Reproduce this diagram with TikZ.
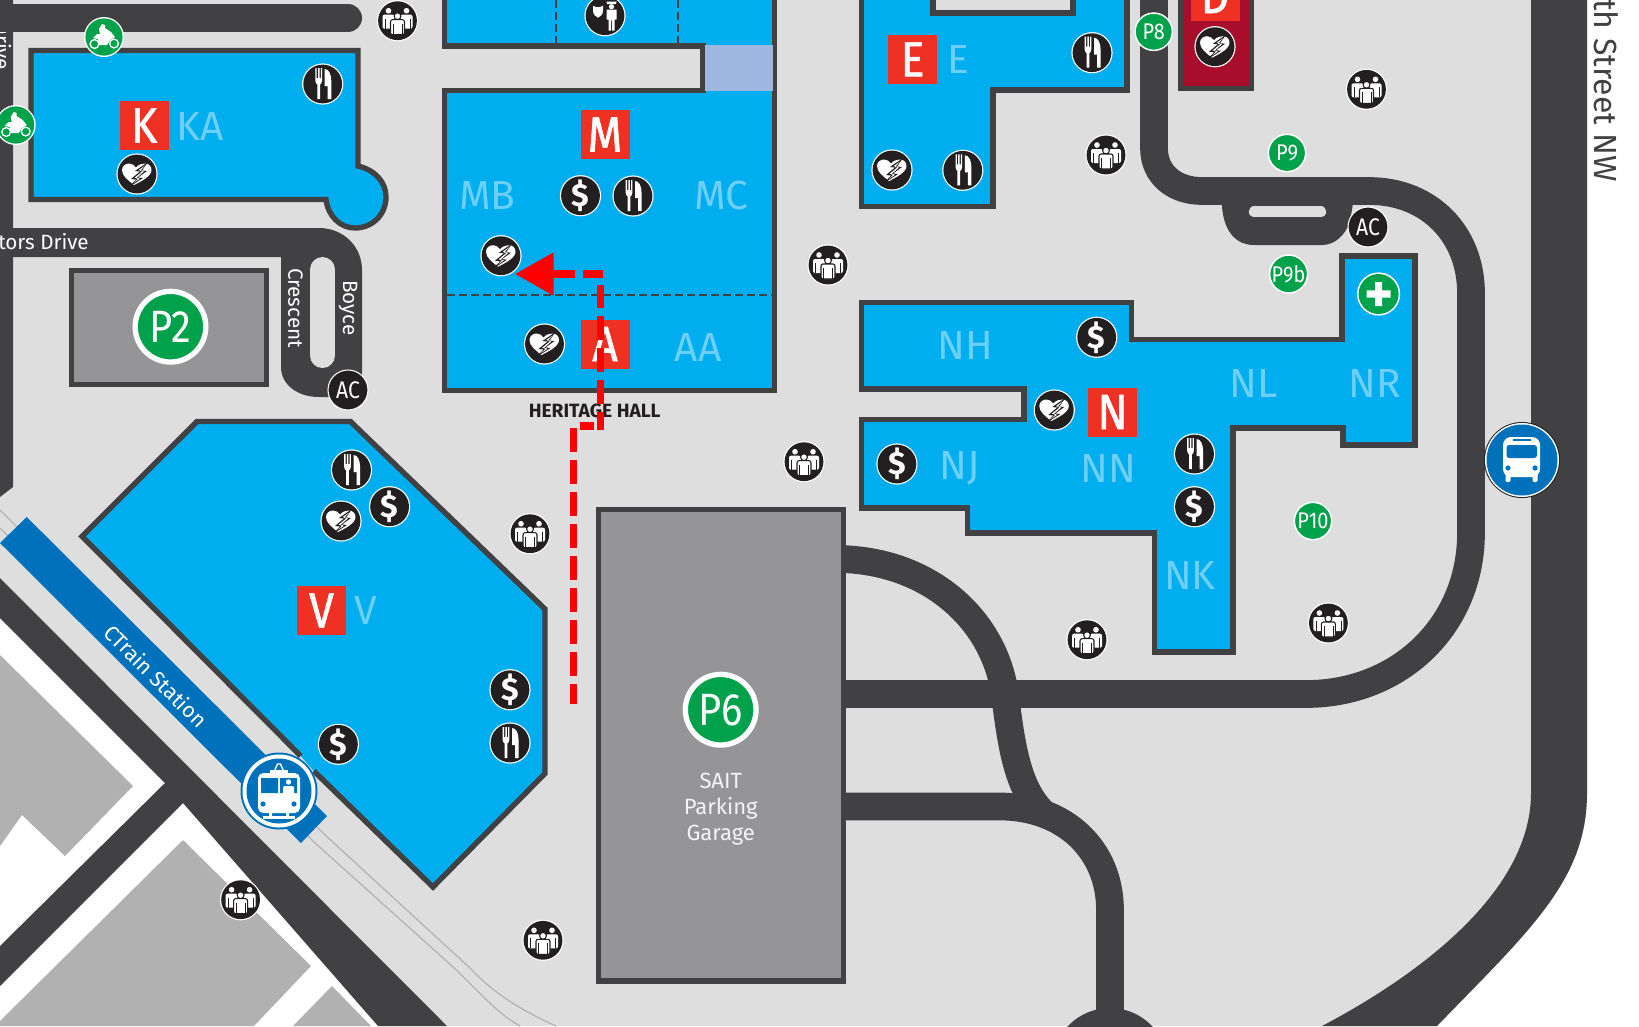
\documentclass[tikz,border=0pt]{standalone}
\usepackage{fontspec}
\setmainfont{Fira Sans}
\newfontfamily\sqfont[FakeStretch=0.9,FakeBold=1.2]{Fira Sans}
\newfontfamily\tagfont[FakeStretch=0.88]{Fira Sans}
\usetikzlibrary{arrows.meta}
\definecolor{roadgray}{HTML}{414042}
\definecolor{groundgray}{HTML}{DEDEDF}
\definecolor{blockgray}{HTML}{B1B1B1}
\definecolor{parkgray}{HTML}{959597}
\definecolor{bldblue}{HTML}{00AEEF}
\definecolor{lblblue}{HTML}{6DCFF6}
\definecolor{patchblue}{HTML}{9DB7E0}
\definecolor{transitblue}{HTML}{0072BC}
\definecolor{bldred}{HTML}{EF3124}
\definecolor{darkred}{HTML}{A90D2C}
\definecolor{parkgreen}{HTML}{00A14B}
\definecolor{iconblack}{HTML}{231F20}
\definecolor{routered}{HTML}{FF0000}
\definecolor{railgray}{HTML}{B4B5B7}
\tikzset{
  roadline/.style={line width=20.8pt,draw=roadgray},
  outline/.style={line width=4pt,draw=roadgray,miter limit=10},
  bld/.style={outline,fill=bldblue},
  lot/.style={outline,fill=parkgray},
  redsq/.style={fill=bldred,text=white,minimum size=36.75pt,inner sep=0pt,font=\sqfont\fontsize{37}{37}\selectfont},
  wing/.style={text=lblblue,inner sep=0pt,font=\fontsize{30.5}{30.5}\selectfont},
  parkbig/.style={circle,fill=parkgreen,draw=white,line width=4pt,minimum size=53pt,inner sep=0pt,text=white,font=\tagfont\fontsize{34}{34}\selectfont},
  parksmall/.style={circle,fill=parkgreen,draw=white,line width=1.1pt,minimum size=28pt,inner sep=0pt,text=white,font=\tagfont\fontsize{17}{17}\selectfont},
  acbadge/.style={circle,fill=iconblack,draw=white,line width=0.8pt,minimum size=30pt,inner sep=0pt,text=white,font=\tagfont\fontsize{18}{18}\selectfont},
  streetname/.style={text=white,inner sep=0pt,font=\fontsize{15.5}{15.5}\selectfont},
  redroute/.style={draw=routered,line width=5.6pt,dash pattern=on 18pt off 6pt},
  badge/.pic={\fill[white] (0,0) circle (20.6); \fill[iconblack] (0,0) circle (19.4);},
  dollarbadge/.pic={\pic {badge};
    \node[text=white,inner sep=0pt,font=\fontsize{24}{24}\selectfont\bfseries] (sign) at (0,0) {\$};},
  forkbadge/.pic={\pic {badge};
    \begin{scope}[yscale=-1]
    \fill[white] (-7.3,-16) -- (-6,-16) -- (-6,-6) -- (-4.6,-6) -- (-4.6,-16) -- (-3.2,-16) -- (-3.2,-6) -- (-1.9,-6) -- (-1.9,-16) -- (-0.7,-16) -- (-0.7,-3) .. controls (-0.7,-1) and (-2,0) .. (-2.6,0.5) -- (-2.6,15) -- (-5.4,15) -- (-5.4,0.5) .. controls (-6,0) and (-7.3,-1) .. (-7.3,-3) -- cycle;
    \fill[white] (2,-15) .. controls (6,-15) and (8.6,-10) .. (8.6,-3) -- (8.6,15) -- (5,15) -- (5,2) -- (2,2) -- cycle;
    \end{scope}},
  peoplebadge/.pic={\pic {badge};
    \begin{scope}[yscale=-1]
    \fill[white] (-9,-10) circle (2.8) (9,-10) circle (2.8);
    \fill[white,rounded corners=1.5] (-15,-6) rectangle (-3,8);
    \fill[white,rounded corners=1.5] (3,-6) rectangle (15,8);
    \fill[white,draw=iconblack,line width=0.8pt] (0,-4.5) circle (3.4);
    \fill[white,draw=iconblack,line width=0.8pt,rounded corners=1.5] (-7,-1) rectangle (7,14);
    \draw[iconblack,line width=0.5pt] (-4.5,3) -- (-4.5,14) (4.5,3) -- (4.5,14) (-12.5,-2) -- (-12.5,8) (12.5,-2) -- (12.5,8);
    \end{scope}},
  heartbadge/.pic={\pic {badge};
    \begin{scope}[yscale=-1]
    \fill[white] (-3,11) .. controls (-9,6) and (-15,2) .. (-15,-4) .. controls (-15,-8) and (-11.5,-10.5) .. (-8,-10.5) .. controls (-5,-10.5) and (-3,-9) .. (-1,-6.5) .. controls (1.5,-9.5) and (5,-10.5) .. (8,-10.5) .. controls (11.5,-10.5) and (14.5,-8) .. (14.5,-4) .. controls (14.5,2) and (5,7) .. cycle;
    \fill[iconblack] (11,-12) -- (-2,-3) -- (3,-2.5) -- (-6,5) -- (-1,5.5) -- (-8,13) -- (6,4) -- (1,3.5) -- (10,-3) -- (5,-3.5) -- cycle;
    \fill[white] (8,-8.5) -- (1.5,-3.8) -- (6,-3.2) -- (-2.5,3.8) -- (1.8,4.2) -- (-3.5,9) -- (3,4.8) -- (-1,4.4) -- (7,-2.5) -- (3,-3) -- cycle;
    \end{scope}},
  bikebadge/.pic={\fill[white] (0,0) circle (20); \fill[parkgreen] (0,0) circle (18.6);
    \begin{scope}[yscale=-1]
    \draw[white,line width=1pt] (-9.5,7) circle (4.4) (10,6.5) circle (4.4);
    \fill[white] (-11,1) -- (-7,-3) -- (-4,-3) -- (-5,-8) -- (-2,-13) -- (1,-12) -- (1,-9) -- (7,-5) -- (11,0) -- (6,3) -- (3,8) -- (-5,8) -- (-6,2) -- cycle;
    \end{scope}},
  policebadge/.pic={\fill[white] (0,0) circle (20.6); \fill[iconblack] (0,0) circle (19.4);
    \begin{scope}[yscale=-1]
    \fill[white] (-12,-10) .. controls (-9,-8) and (-5,-8) .. (-2,-10) -- (-2,-5) .. controls (-2,-1) and (-5,1) .. (-7,2) .. controls (-9,1) and (-12,-1) .. (-12,-5) -- cycle;
    \fill[white] (1.5,-14) -- (11.5,-14) -- (11,-11.5) -- (2,-11.5) -- cycle;
    \fill[white] (6.5,-9) circle (2.6);
    \fill[white] (1.5,-6) -- (11.5,-6) -- (11.5,4) -- (9.5,4) -- (9.5,15) -- (7,15) -- (7,5) -- (6,5) -- (6,15) -- (3.5,15) -- (3.5,4) -- (1.5,4) -- cycle;
    \end{scope}},
  crossbadge/.pic={\fill[white] (0,0) circle (21.6); \fill[parkgreen] (0,0) circle (20);
    \fill[white] (-3.6,-12) rectangle (3.6,12) (-12,-3.6) rectangle (12,3.6);},
  trainbadge/.pic={\fill[transitblue] (0,0) circle (38.5); \fill[white] (0,0) circle (36.5); \fill[transitblue] (0,0) circle (32.5);
    \begin{scope}[yscale=-1]
    \draw[white,line width=1pt] (-4.5,-20) -- (-1.5,-27) -- (1.5,-27) -- (4.5,-20) -- cycle;
    \fill[white] (-9,-21) rectangle (9,-17);
    \fill[white,rounded corners=4] (-21,-18) rectangle (21,22);
    \fill[transitblue] (-18,-13) rectangle (-1,2) (1,-13) rectangle (18,2);
    \fill[white] (9.5,-9) circle (2.7);
    \fill[white,rounded corners=1] (4,-5) rectangle (15,4);
    \fill[transitblue] (-16,13) circle (2.6) (15,13) circle (2.6);
    \fill[white] (-16,25) rectangle (16,27.5);
    \fill[white] (-10,20) rectangle (-7,26) (7,20) rectangle (10,26);
    \end{scope}},
  busbadge/.pic={\fill[iconblack] (0,0) circle (38); \fill[white] (0,0) circle (37); \fill[transitblue] (0,0) circle (35.5);
    \begin{scope}[yscale=-1]
    \fill[white,rounded corners=6] (-19,-23) rectangle (18,17);
    \fill[white,rounded corners=1] (-16.5,12) rectangle (-11.5,22) (10.5,12) rectangle (15.5,22);
    \fill[transitblue,rounded corners=2] (-15.5,-15) rectangle (15,-2);
    \fill[transitblue] (-9.5,-21) rectangle (9,-19);
    \fill[transitblue] (-14,8) circle (2.6) (13,8) circle (2.6);
    \end{scope}}
}
\begin{document}
\begin{tikzpicture}[x=0.75pt,y=0.75pt,yscale=-1,xscale=1]
\useasboundingbox (0,0) rectangle (1639,1026);
\clip (0,0) rectangle (1639,1026);

%Ground
\fill[white] (0,0) rectangle (1639,1026);
\fill[groundgray] (0,0) -- (1587,0) -- (1587,793) .. controls (1587,880) and (1530,930) .. (1437,1026) -- (447,1026) -- (0,578) -- cycle;

%Blocks over the diagonal road
\fill[blockgray] (0,655) -- (133,786) -- (65,856) -- (22,815) -- (0,846) -- cycle;
\fill[blockgray] (183,840) -- (311,966) -- (254,1026) -- (0,1026) -- (0,1021) -- cycle;
\fill[blockgray] (332,986) -- (371,1026) -- (293,1026) -- cycle;

%Rails
\draw[railgray,line width=1pt] (0,528) -- (314,842) -- (452,966) .. controls (478,990) and (495,1012) .. (520,1026);
\draw[railgray,line width=1pt] (0,510) -- (324,834) -- (470,968) .. controls (495,995) and (525,1012) .. (556,1026);

%Platform
\fill[transitblue] (26.7,517) -- (327,816) -- (301,843) -- (0,543) -- cycle;
\node[text=white,inner sep=0pt,rotate=-45,font=\fontsize{16}{16}\selectfont] (ctrain) at (156,676) {CTrain Station};

%Diagonal roads
\fill[roadgray] (0,578) -- (447,1026) -- (378,1026) -- (183,803) -- (0,986) -- (0,946) -- (165,783) -- (0,618) -- cycle;

%Right street
\fill[roadgray] (1531,0) -- (1587,0) -- (1587,793) .. controls (1587,880) and (1530,930) .. (1437,1026) -- (1322,1026) .. controls (1400,985) and (1531,900) .. (1531,793) -- cycle;
\node[text=roadgray,inner sep=0pt,rotate=-90,anchor=east,font=\fontsize{24}{24}\selectfont] (street) at (1606,182) {th Street NW};

%Top left roads
\fill[roadgray] (0,-5) -- (13,-5) -- (13,487) -- (0,497) -- cycle;
\node[streetname,rotate=-90,anchor=west] (leftdrive) at (3,8) {r Drive};
\draw[line width=21pt,draw=roadgray,line cap=round] (0,18) -- (348,18);
\fill[roadgray] (-5,228) -- (319,228) .. controls (343,228) and (362,246) .. (362,270) -- (362,372) .. controls (362,388) and (345,397) .. (328,397) -- (319,397) .. controls (298,397) and (281,385) .. (281,367) -- (281,257) -- (-5,257) -- cycle;
\draw[groundgray,line width=18.75pt,line cap=round] (322.5,269.5) -- (322.5,355.5);
\node[streetname,anchor=east] (drive) at (89,241.5) {tors Drive};
\node[streetname,rotate=-90] (boyce) at (348,308) {Boyce};
\node[streetname,rotate=-90] (crescent) at (295.5,308) {Crescent};

%Campus roads
\draw[roadline] (1154,-5) -- (1154,148) .. controls (1154,175) and (1175,191) .. (1202,191) -- (1369,191) .. controls (1430,191) and (1471,235) .. (1471,293) -- (1471,533) .. controls (1471,625) and (1400,694) .. (1306,694) -- (840,694);
\fill[roadgray] (1221.7,200) -- (1353.5,200) -- (1350,222) .. controls (1345,235) and (1335,245) .. (1322,245) -- (1254,245) .. controls (1235,245) and (1222,230) .. cycle;
\draw[groundgray,line width=8.6pt,line cap=round] (1254.5,211.75) -- (1320.5,211.75);
\draw[roadline] (840,559) .. controls (930,561) and (995,620) .. (1005,695) .. controls (1012,750) and (1018,790) .. (1045,815);
\draw[roadline] (840,806.5) -- (1000,806.5) .. controls (1065,806.5) and (1110,850) .. (1110,910) -- (1110,1040);
\fill[roadgray] (1110,1066) circle (58);

%Building K
\draw[bld] (31,50.5) -- (358,50.5) -- (358,166) .. controls (375,170) and (386,182) .. (386,197) .. controls (386,215) and (372,228) .. (355,228) .. controls (340,228) and (328,216) .. (326,199.5) -- (31,199.5) -- cycle;

%Buildings M and A
\draw[bld] (444.5,-5) -- (444.5,46) -- (703,46) -- (703,90.5) -- (444.5,90.5) -- (444.5,390.5) -- (774.5,390.5) -- (774.5,-5);
\fill[patchblue] (705,45) rectangle (772.5,91);
\draw[roadgray,line width=1pt,dash pattern=on 6pt off 3pt] (556,0) -- (556,44);
\draw[roadgray,line width=1pt,dash pattern=on 6pt off 3pt] (678,0) -- (678,44);
\draw[roadgray,line width=1pt,dash pattern=on 6pt off 3pt] (447,295) -- (772,295);

%Building V
\fill[bldblue] (300.7,756) -- (82,536.3) -- (197,421.5) -- (350.5,421.5) -- (545,609) -- (545,773.5) -- (433,887) -- (313.8,771) -- cycle;
\draw[outline] (300.7,756) -- (82,536.3) -- (197,421.5) -- (350.5,421.5) -- (545,609) -- (545,773.5) -- (433,887) -- (313.8,771);

%Building E
\draw[bld] (861.5,-5) -- (861.5,206.5) -- (993,206.5) -- (993,90) -- (1127,90) -- (1127,-5);
\draw[outline,fill=groundgray] (933,-5) -- (933,13) -- (1073,13) -- (1073,-5);

%Building D
\draw[outline,fill=darkred] (1180.5,-5) -- (1180.5,88.5) -- (1251.5,88.5) -- (1251.5,-5);

%Building N
\draw[bld] (861.5,302.5) -- (1131.5,302.5) -- (1131.5,339.5) -- (1342,339.5) -- (1342,256) -- (1415,256) -- (1415,445) -- (1343,445) -- (1343,428) -- (1233,428) -- (1233,652) -- (1154.7,652) -- (1154.7,533) -- (967.5,533) -- (967.5,508) -- (861.5,508) -- (861.5,419.3) -- (1024,419.3) -- (1024,389) -- (861.5,389) -- cycle;

%Parking lots
\draw[lot] (71.5,270.5) rectangle (266.5,384.5);
\draw[lot] (598.5,509.5) rectangle (843.5,981);

%Letter squares
\node[redsq] (sqK) at (144,125.5) {K};
\node[redsq] (sqM) at (605,134.5) {M};
\node[redsq] (sqA) at (605,344) {A};
\node[redsq] (sqV) at (321.5,610.5) {V};
\node[redsq] (sqE) at (912.6,59.3) {E};
\node[redsq] (sqD) at (1215,-4) {D};
\node[redsq] (sqN) at (1112.7,412) {N};

%Wing labels
\node[wing] (wKA) at (200,126) {KA};
\node[wing] (wMB) at (487.5,195) {MB};
\node[wing] (wMC) at (721,195) {MC};
\node[wing] (wAA) at (698,347) {AA};
\node[wing] (wV) at (366,610) {V};
\node[wing] (wE) at (958,59) {E};
\node[wing] (wNH) at (965.4,345.7) {NH};
\node[wing] (wNL) at (1254,383) {NL};
\node[wing] (wNR) at (1374.4,383) {NR};
\node[wing] (wNJ) at (959.6,468) {NJ};
\node[wing] (wNN) at (1108,468) {NN};
\node[wing] (wNK) at (1190,575.7) {NK};

%Hall name and route
\node[text=iconblack,inner sep=0pt,font=\fontsize{14.4}{14.4}\selectfont\bfseries] (hall) at (594.7,411) {HERITAGE HALL};
\draw[redroute,dash phase=3.2pt] (573.5,703.7) -- (573.5,426) -- (594,426);
\draw[redroute,dash phase=4.5pt] (600.4,430) -- (600.4,285);
\draw[draw=routered,line width=5.6pt] (603,274) -- (583,274);
\draw[draw=routered,line width=5.6pt,-{Triangle[length=29pt,width=31pt]}] (575,274) -- (515,274);

%Parking badges
\node[parkbig] (P2) at (170.5,326.7) {P2};
\node[parkbig] (P6) at (720.7,709.7) {P6};
\node[text=white!90!parkgray,inner sep=0pt,align=center,font=\fontsize{16.5}{19.6}\selectfont] (garage) at (720.7,809) {SAIT\\Parking\\Garage};
\node[parksmall] (P8) at (1153.7,31.7) {P8};
\node[parksmall] (P9) at (1287,153) {P9};
\node[parksmall] (P9b) at (1288.6,274) {P9b};
\node[parksmall] (P10) at (1313,521) {P10};
\node[acbadge] (ACa) at (348,390) {AC};
\node[acbadge] (ACb) at (1368,227) {AC};

%Icon badges
\pic (bikeA) at (104,37) {bikebadge};
\pic (bikeB) at (15.7,125) {bikebadge};
\pic (police) at (605,15.7) {policebadge};
\pic (crossN) at (1378.6,294) {crossbadge};
\pic (train) at (279,791) {trainbadge};
\pic (bus) at (1522,460) {busbadge};

\pic (forkK) at (322.7,84) {forkbadge};
\pic (forkM) at (633,196) {forkbadge};
\pic (forkVa) at (351.5,470) {forkbadge};
\pic (forkVb) at (510,743) {forkbadge};
\pic (forkEa) at (1092,52.7) {forkbadge};
\pic (forkEb) at (962.8,170.3) {forkbadge};
\pic (forkN) at (1194.5,454) {forkbadge};

\pic (cashM) at (580.5,195.7) {dollarbadge};
\pic (cashVa) at (389.6,506.7) {dollarbadge};
\pic (cashVb) at (510,689.7) {dollarbadge};
\pic (cashVc) at (338.4,744.3) {dollarbadge};
\pic (cashNa) at (1096.7,337.3) {dollarbadge};
\pic (cashNb) at (896.9,464) {dollarbadge};
\pic (cashNc) at (1194.5,506.7) {dollarbadge};

\pic (heartK) at (137,174) {heartbadge};
\pic (heartM) at (501,255.7) {heartbadge};
\pic (heartA) at (544.5,344) {heartbadge};
\pic (heartV) at (341,521) {heartbadge};
\pic (heartE) at (892,170) {heartbadge};
\pic (heartD) at (1215,46.7) {heartbadge};
\pic (heartN) at (1054.3,410) {heartbadge};

\pic (crowdA) at (397.5,20.7) {peoplebadge};
\pic (crowdB) at (804,461.7) {peoplebadge};
\pic (crowdC) at (530,533.7) {peoplebadge};
\pic (crowdD) at (828,265) {peoplebadge};
\pic (crowdE) at (240.6,899.7) {peoplebadge};
\pic (crowdF) at (543,940.3) {peoplebadge};
\pic (crowdG) at (1366.5,89.3) {peoplebadge};
\pic (crowdH) at (1106,155) {peoplebadge};
\pic (crowdI) at (1087,639.7) {peoplebadge};
\pic (crowdJ) at (1328.4,623) {peoplebadge};

\end{tikzpicture}
\end{document}
